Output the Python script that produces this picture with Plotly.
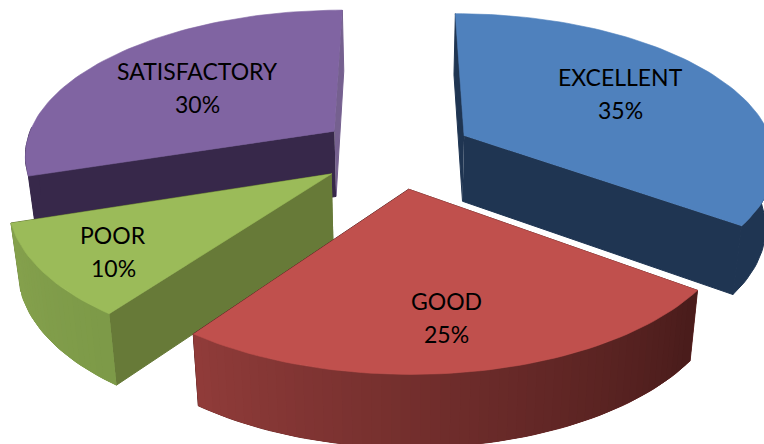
import numpy as np
import plotly.graph_objects as go

# Chart data
categories = ["EXCELLENT", "GOOD", "POOR", "SATISFACTORY"]
shares = [35, 25, 10, 30]

# Fill colours for each slice: top face, flat walls at the start and end of its arc,
# rim at start and end of its arc
top_colors = ["#4F81BD", "#C0504D", "#9BBB59", "#8064A2"]
start_cut_colors = ["#1F3552", "#5A2524", "#677A38", "#37284A"]
end_cut_colors = ["#1F3552", "#5A2524", "#677A38", "#75608F"]
rim_from = [(31, 53, 82), (74, 28, 27), (125, 154, 72), (55, 40, 74)]
rim_to = [(31, 53, 82), (145, 60, 58), (133, 161, 77), (55, 40, 74)]

# Centre of each slice's label, in page pixels: name line and percent line
label_x = [620, 446, 113, 197]
name_y = [77, 301, 235, 71]
percent_y = [110, 334, 268, 104]

# Perspective projection of the pie plane onto the page
CX, CY = 396, 152
SCALE_X, SCALE_Y = 311, 145
PERSPECTIVE = 0.15
EXPLODE = 0.25
THICKNESS = 66
CONVERGE_X, CONVERGE = 400, 0.025
ARC_STEP_DEG = 1.5


def project(wx, wy):
    s = 1 / (1 + PERSPECTIVE * wy)
    return CX + SCALE_X * wx * s, CY - SCALE_Y * wy * s


def extrude(wx, wy):
    x, y = project(wx, wy)
    s = 1 / (1 + PERSPECTIVE * wy)
    return x + (CONVERGE_X - x) * CONVERGE, y + THICKNESS * np.sqrt(s)


def polygon(fig, xs, ys, color, width=0.6):
    fig.add_trace(go.Scatter(
        x=list(xs), y=list(ys), mode="lines", fill="toself", fillcolor=color,
        line=dict(color=color, width=width), hoverinfo="skip", showlegend=False,
    ))


def wall(fig, wx, wy, color, width=1.0):
    x1, y1 = project(wx, wy)
    x2, y2 = extrude(wx, wy)
    polygon(fig, np.r_[x1, x2[::-1]], np.r_[y1, y2[::-1]], color, width)


def rgb(c):
    return "rgb({:.0f},{:.0f},{:.0f})".format(*c)


fig = go.Figure()

fractions = np.array(shares) / sum(shares)
ends = np.cumsum(fractions) * 360
starts = ends - fractions * 360
# back slices first so that the nearer ones cover them
draw_order = [3, 0, 2, 1]

for i in draw_order:
    a0, a1 = np.radians(starts[i]), np.radians(ends[i])
    mid = (a0 + a1) / 2
    ox, oy = EXPLODE * np.sin(mid), EXPLODE * np.cos(mid)
    th = np.linspace(a0, a1, max(2, int((ends[i] - starts[i]) / ARC_STEP_DEG)) + 1)
    ax, ay = ox + np.sin(th), oy + np.cos(th)

    # flat walls running from the apex out to each end of the arc
    wall(fig, np.array([ox, ax[-1]]), np.array([oy, ay[-1]]), end_cut_colors[i])
    wall(fig, np.array([ox, ax[0]]), np.array([oy, ay[0]]), start_cut_colors[i])

    # outer rim, only where it faces the viewer: a solid band underneath,
    # then overlapping shaded strips along the arc
    facing = np.cos(th) < 0.05
    rx, ry = ax[facing], ay[facing]
    n = len(rx) - 1
    mean = [(p + q) / 2 for p, q in zip(rim_from[i], rim_to[i])]
    wall(fig, rx, ry, rgb(mean))
    if rim_from[i] != rim_to[i]:
        for j in range(n - 1, -1, -1):
            t = j / max(1, n - 1)
            c = [p + (q - p) * t for p, q in zip(rim_from[i], rim_to[i])]
            wall(fig, rx[j:j + 3], ry[j:j + 3], rgb(c), width=0)

    # top face
    tx, ty = project(np.r_[ox, ax], np.r_[oy, ay])
    polygon(fig, tx, ty, top_colors[i])

annotations = []
for i, name in enumerate(categories):
    for text, y in ((name, name_y[i]), (f"{shares[i]}%", percent_y[i])):
        annotations.append(dict(
            x=label_x[i], y=y, text=text, showarrow=False, xref="x", yref="y",
            font=dict(family="Lato", size=23, color="#000000"),
        ))

fig.update_layout(
    width=764, height=444, margin=dict(l=0, r=0, t=0, b=0),
    paper_bgcolor="#FFFFFF", plot_bgcolor="#FFFFFF",
    xaxis=dict(range=[0, 764], visible=False, fixedrange=True),
    yaxis=dict(range=[444, 0], visible=False, fixedrange=True),
    annotations=annotations, showlegend=False,
)

fig.write_html("out.html", config={"displayModeBar": False})
